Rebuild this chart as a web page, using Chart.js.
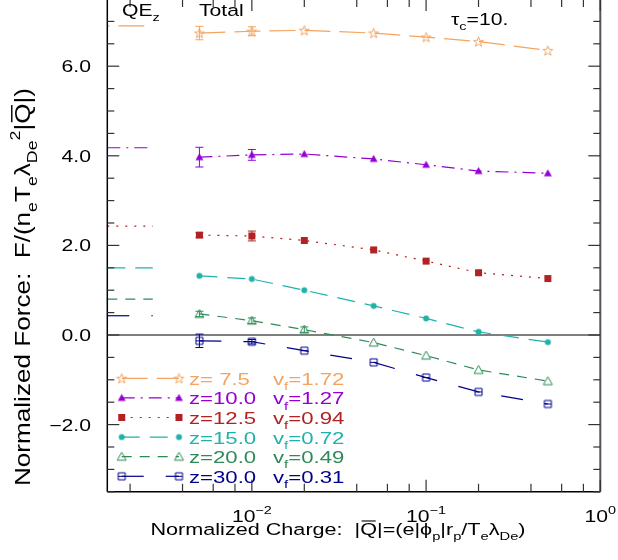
<!DOCTYPE html>
<html>
<head>
<meta charset="utf-8">
<script src="https://cdn.jsdelivr.net/npm/chart.js@4/dist/chart.umd.min.js"></script>
<style>
  html, body { margin: 0; padding: 0; background: #fff; overflow: hidden; }
  #wrap { position: relative; width: 618px; height: 560px; overflow: hidden; }
  #force-chart { position: absolute; left: 0; top: -20px; }
</style>
</head>
<body>
<div id="wrap"><canvas id="force-chart" width="618" height="600"></canvas></div>
<script>
// Normalized force vs normalized charge, tau_c = 10
const charges = [0.005, 0.01, 0.02, 0.05, 0.1, 0.2, 0.5];

const zLabels = ['z= 7.5', 'z=10.0', 'z=12.5', 'z=15.0', 'z=20.0', 'z=30.0'];
const vfLabels = ['1.72', '1.27', '0.94', '0.72', '0.49', '0.31'];

const forceZ075 = [6.74, 6.78, 6.80, 6.74, 6.65, 6.55, 6.35];
const forceZ100 = [3.97, 4.02, 4.04, 3.93, 3.80, 3.66, 3.61];
const forceZ125 = [2.23, 2.21, 2.11, 1.90, 1.65, 1.39, 1.26];
const forceZ150 = [1.32, 1.25, 1.00, 0.65, 0.37, 0.07, -0.16];
const forceZ200 = [0.47, 0.32, 0.12, -0.17, -0.46, -0.78, -1.03];
const forceZ300 = [-0.13, -0.15, -0.35, -0.61, -0.95, -1.27, -1.54];

// error bars, only the low charge runs have them
const errZ075 = [0.15, 0.10, 0, 0, 0, 0, 0];
const errZ100 = [0.22, 0.12, 0, 0, 0, 0, 0];
const errZ125 = [0.05, 0.11, 0, 0, 0, 0, 0];
const errZ150 = [0, 0, 0, 0, 0, 0, 0];
const errZ200 = [0.06, 0.06, 0.06, 0, 0, 0, 0];
const errZ300 = [0.15, 0.05, 0, 0, 0, 0, 0];

// QE_z levels, short stubs at the left edge
const qeForce = [6.90, 4.18, 2.43, 1.50, 0.80, 0.43];
const qeCharge = [0.00148, 0.0027];

// tick labels
const yTickValues = [-2, 0, 2, 4, 6];
const yTickLabels = ['\u22122.0', '0.0', '2.0', '4.0', '6.0'];
const xTickValues = [0.01, 0.1, 1];
const xTickExponents = ['\u22122', '\u22121', '0'];

const forces = [forceZ075, forceZ100, forceZ125, forceZ150, forceZ200, forceZ300];
const errors = [errZ075, errZ100, errZ125, errZ150, errZ200, errZ300];

// styles
const seriesColors = ['#f4a460', '#9400d3', '#b22222', '#20b2aa', '#2e8b57', '#00008b'];
const seriesDash = [[26, 9], [13, 6, 2, 6], [2, 7], [18, 10], [10, 8], [22, 22]];
const markerKinds = ['star', 'triFilled', 'squareFilled', 'circle', 'triOpen', 'squareBar'];

const OFF = 20;        // canvas shifted up, top frame sits just above the view
const FONT = '"Liberation Sans", Arial, sans-serif';
const TEXT_SX = 1.3;   // the reference lettering is stretched sideways

// Build small canvases used as point styles
function makeMarker(kind, color) {
    const c = document.createElement('canvas');
    c.width = 13; c.height = 13;
    const g = c.getContext('2d');
    const m = 6.5;
    g.strokeStyle = color;
    g.fillStyle = color;
    g.lineWidth = 1;
    g.beginPath();
    if (kind === 'star') {
        for (let i = 0; i < 10; i++) {
            const r = i % 2 ? 2.1 : 5.2;
            const ang = -Math.PI / 2 + i * Math.PI / 5;
            const px = m + r * Math.cos(ang), py = m + 0.5 + r * Math.sin(ang);
            if (i === 0) g.moveTo(px, py); else g.lineTo(px, py);
        }
        g.closePath();
        g.stroke();
    } else if (kind === 'triFilled') {
        g.moveTo(m, m - 4); g.lineTo(m + 4, m + 3); g.lineTo(m - 4, m + 3);
        g.closePath(); g.fill();
    } else if (kind === 'squareFilled') {
        g.rect(m - 3.5, m - 3.5, 7, 7); g.fill();
    } else if (kind === 'circle') {
        g.arc(m, m, 3, 0, Math.PI * 2); g.fill();
    } else if (kind === 'triOpen') {
        g.moveTo(m, m - 4.5); g.lineTo(m + 4.5, m + 3.5); g.lineTo(m - 4.5, m + 3.5);
        g.closePath(); g.stroke();
    } else if (kind === 'squareBar') {
        g.rect(m - 3.5, m - 3.5, 7, 7);
        g.moveTo(m - 3.5, m); g.lineTo(m + 3.5, m);
        g.stroke();
    }
    return c;
}
const markers = markerKinds.map((k, i) => makeMarker(k, seriesColors[i]));

// Text with sub / superscripts. parts: [text, mode], mode '', 'sub', 'sup', 'bar'
function richWidth(ctx, parts, size) {
    let w = 0;
    parts.forEach(([t, mode]) => {
        const s = (mode === 'sub' || mode === 'sup') ? size * 0.68 : size;
        ctx.font = `${s}px ${FONT}`;
        w += ctx.measureText(t).width;
    });
    return w;
}
function drawRich(ctx, parts, x, y, size, align = 'left', sx = TEXT_SX, color = '#000') {
    const total = richWidth(ctx, parts, size) * sx;
    const start = align === 'center' ? x - total / 2 : align === 'right' ? x - total : x;
    ctx.save();
    ctx.translate(start, y);
    ctx.scale(sx, 1);
    ctx.fillStyle = color;
    ctx.strokeStyle = color;
    ctx.textBaseline = 'alphabetic';
    ctx.textAlign = 'left';
    let cx = 0;
    parts.forEach(([t, mode]) => {
        const small = mode === 'sub' || mode === 'sup';
        const s = small ? size * 0.68 : size;
        ctx.font = `${s}px ${FONT}`;
        const dy = mode === 'sub' ? size * 0.32 : mode === 'sup' ? -size * 0.45 : 0;
        ctx.fillText(t, cx, dy);
        const w = ctx.measureText(t).width;
        if (mode === 'bar') {
            ctx.lineWidth = 1.1;
            ctx.beginPath();
            ctx.moveTo(cx + 1, -size * 0.86);
            ctx.lineTo(cx + w - 1, -size * 0.86);
            ctx.stroke();
        }
        cx += w;
    });
    ctx.restore();
}

function strokeLine(ctx, x1, y1, x2, y2) {
    ctx.beginPath();
    ctx.moveTo(x1, y1);
    ctx.lineTo(x2, y2);
    ctx.stroke();
}

const yTitleParts = [['Normalized Force:  F/(n', ''], ['e', 'sub'], ['T', ''], ['e', 'sub'],
    ['\u03bb', ''], ['De', 'sub'], ['2', 'sup'], ['|', ''], ['Q', 'bar'], ['|)', '']];
const xTitleParts = [['Normalized Charge:  |', ''], ['Q', 'bar'], ['|=(e|\u03d5', ''], ['p', 'sub'],
    ['|r', ''], ['p', 'sub'], ['/T', ''], ['e', 'sub'], ['\u03bb', ''], ['De', 'sub'], [')', '']];

const framePlugin = {
    id: 'frame',
    beforeDatasetsDraw(chart) {
        const { ctx, chartArea: a, scales: { y } } = chart;
        ctx.save();
        ctx.strokeStyle = '#000';
        ctx.lineWidth = 1.2;
        const y0 = y.getPixelForValue(0);
        strokeLine(ctx, a.left, y0, a.right, y0);
        ctx.restore();
    },
    afterDatasetsDraw(chart) {
        const { ctx, chartArea: a, scales: { x, y } } = chart;
        ctx.save();

        // error bars
        forces.forEach((series, i) => {
            ctx.strokeStyle = seriesColors[i];
            ctx.lineWidth = 1;
            series.forEach((v, j) => {
                const e = errors[i][j];
                if (!e) return;
                const px = x.getPixelForValue(charges[j]);
                const top = y.getPixelForValue(v + e), bot = y.getPixelForValue(v - e);
                strokeLine(ctx, px, top, px, bot);
                strokeLine(ctx, px - 4, top, px + 4, top);
                strokeLine(ctx, px - 4, bot, px + 4, bot);
            });
        });

        // frame
        ctx.strokeStyle = '#000';
        ctx.lineWidth = 1.5;
        strokeLine(ctx, a.left, a.top, a.left, a.bottom);
        strokeLine(ctx, a.left, a.bottom, a.right, a.bottom);
        ctx.strokeStyle = '#555';
        ctx.lineWidth = 2;
        strokeLine(ctx, a.right, a.top, a.right, a.bottom);
        strokeLine(ctx, a.left, a.top, a.right, a.top);

        // y ticks, minor every 0.5, major every 2
        ctx.strokeStyle = '#333';
        ctx.lineWidth = 1.2;
        for (let v = -3.5; v <= 7.5; v += 0.5) {
            const py = y.getPixelForValue(v);
            const len = (v % 2 === 0) ? 12 : 7;
            strokeLine(ctx, a.left, py, a.left + len, py);
            strokeLine(ctx, a.right - len, py, a.right, py);
        }
        // x ticks, log decades with 2,4,6,8 minors
        for (let d = -3; d <= 0; d++) {
            [1, 2, 4, 6, 8].forEach(k => {
                const v = k * Math.pow(10, d);
                if (v < x.min || v > x.max * 1.0001) return;
                const px = x.getPixelForValue(v);
                const len = k === 1 ? 12 : 8;
                strokeLine(ctx, px, a.bottom, px, a.bottom - len);
                strokeLine(ctx, px, a.top, px, a.top + len);
            });
        }

        // tick labels
        yTickValues.forEach((v, i) => {
            const py = y.getPixelForValue(v);
            drawRich(ctx, [[yTickLabels[i], '']], 91, py + 6, 16.3, 'right');
        });
        xTickValues.forEach((v, i) => {
            const px = x.getPixelForValue(v);
            drawRich(ctx, [['10', ''], [xTickExponents[i], 'sup']], px, 521.5 + OFF, 16.3, 'center');
        });

        // axis titles, each fitted to the span it has in the reference
        const xNatural = richWidth(ctx, xTitleParts, 16.3);
        drawRich(ctx, xTitleParts, 338, 535 + OFF, 16.3, 'center', 375 / xNatural);
        ctx.save();
        ctx.translate(30, 287 + OFF);
        ctx.scale(1.3, 1);
        ctx.rotate(-Math.PI / 2);
        const yNatural = richWidth(ctx, yTitleParts, 16.3);
        drawRich(ctx, yTitleParts, 0, 0, 16.3, 'center', 398 / yNatural);
        ctx.restore();

        // annotations at the top
        drawRich(ctx, [['QE', ''], ['z', 'sub']], 122, 16 + OFF, 16.3);
        drawRich(ctx, [['Total', '']], 199, 16 + OFF, 16.3);
        drawRich(ctx, [['\u03c4', ''], ['c', 'sub'], ['=10.', '']], 451, 25 + OFF, 16.3);

        // legend
        const x1 = 121.7, x2 = 179;
        forces.forEach((s, i) => {
            const ry = 378.3 + OFF + i * 19.6;
            ctx.strokeStyle = seriesColors[i];
            ctx.lineWidth = 1.2;
            ctx.setLineDash(seriesDash[i]);
            strokeLine(ctx, x1, ry, x2, ry);
            ctx.setLineDash([]);
            [x1, x2].forEach(px => ctx.drawImage(markers[i], px - 6.5, ry - 6.5));
            drawRich(ctx, [[zLabels[i], '']], 189, ry + 6.5, 16.3, 'left', 1.36, seriesColors[i]);
            drawRich(ctx, [['v', ''], ['f', 'sub'], ['=' + vfLabels[i], '']], 273, ry + 6.5, 16.3, 'left', 1.36, seriesColors[i]);
        });

        ctx.restore();
    }
};

const datasets = [];
forces.forEach((series, i) => {
    datasets.push({
        data: charges.map((q, j) => ({ x: q, y: series[j] })),
        borderColor: seriesColors[i],
        backgroundColor: seriesColors[i],
        borderDash: seriesDash[i],
        borderWidth: 1.2,
        pointStyle: markers[i],
        pointRadius: 6,
        fill: false,
        tension: 0
    });
});
qeForce.forEach((v, i) => {
    datasets.push({
        data: qeCharge.map(q => ({ x: q, y: v })),
        borderColor: seriesColors[i],
        borderDash: seriesDash[i],
        borderDashOffset: i === 0 ? 35 - 11 : 0,
        borderWidth: 1.2,
        pointRadius: 0,
        fill: false
    });
});

new Chart(document.getElementById('force-chart'), {
    type: 'line',
    data: { datasets },
    options: {
        responsive: false,
        animation: false,
        devicePixelRatio: 1,
        layout: { padding: { left: 107.3, right: 17.7, top: 19, bottom: 88.2 } },
        plugins: { legend: { display: false }, tooltip: { enabled: false } },
        scales: {
            x: { type: 'logarithmic', min: 0.00148, max: 1, display: false },
            y: { type: 'linear', min: -3.5, max: 7.5, display: false }
        }
    },
    plugins: [framePlugin]
});
</script>
</body>
</html>
